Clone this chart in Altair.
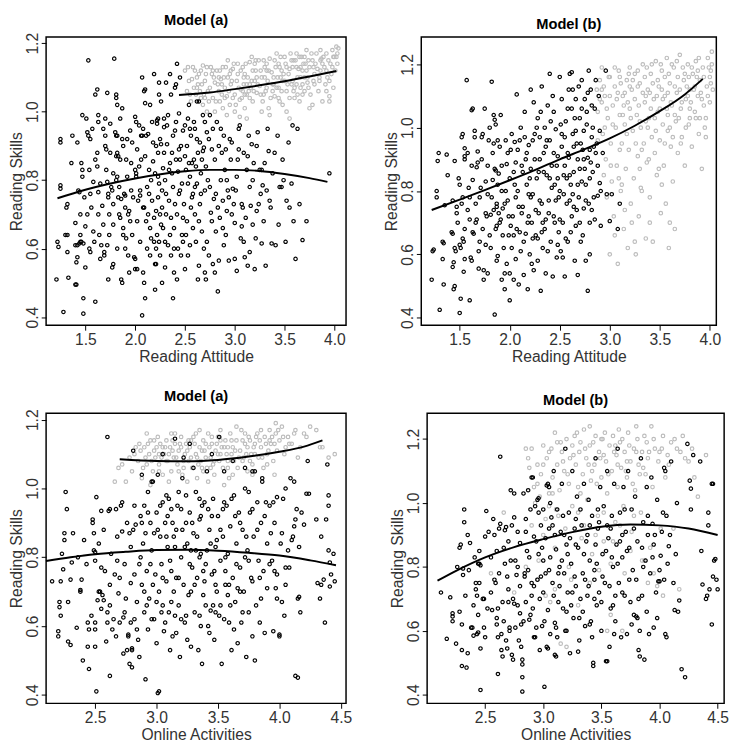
import altair as alt
import pandas as pd

FONT = "Liberation Sans"

# ---------------- Panel 1: Model (a), Reading Attitude ----------------
p1_black_a = [
(1.21,0.51),(1.22,0.62),(1.23,0.605),(1.25,0.92),(1.25,0.91),(1.25,0.785),(1.25,0.775),(1.28,0.415),(1.30,0.64),(1.32,0.64),
(1.32,0.73),(1.31,0.72),(1.32,0.59),(1.33,0.515),(1.36,0.85),(1.37,0.93),(1.40,0.675),(1.40,0.61),(1.42,0.61),(1.44,0.615),
(1.45,0.62),(1.46,0.62),(1.48,0.615),(1.41,0.56),(1.42,0.575),(1.40,0.495),(1.41,0.495),(1.42,0.91),(1.43,0.77),(1.44,0.765),
(1.45,0.70),(1.45,0.64),(1.46,0.85),(1.47,0.81),(1.47,0.83),(1.47,0.99),(1.48,0.41),(1.48,0.455),(1.49,0.75),(1.50,0.545),
(1.50,0.665),(1.51,0.98),(1.52,0.94),(1.53,1.15),(1.53,0.93),(1.55,0.92),(1.54,0.83),(1.54,0.60),(1.55,0.59),(1.56,0.72),
(1.57,0.95),(1.58,0.795),(1.58,0.65),(1.59,0.62),(1.60,0.445),(1.60,1.05),(1.62,1.065),(1.63,0.99),(1.63,0.97),(1.62,0.88),
(1.62,0.84),(1.63,0.765),(1.63,0.70),(1.64,0.64),(1.65,0.57),(1.66,0.61),(1.67,0.725),(1.69,0.59),(1.69,0.58),(1.68,0.67),
(1.70,0.98),(1.70,0.93),(1.70,0.90),(1.71,0.89),(1.71,0.83),(1.72,0.795),(1.73,0.76),(1.73,0.75),(1.74,0.70),(1.74,0.64),
(1.72,1.055),(1.73,0.51),(1.75,0.965),(1.76,0.78),(1.77,0.77),(1.78,0.555),(1.77,0.545),(1.78,0.73),(1.78,0.67),(1.79,1.155),
(1.80,0.94),(1.81,0.93),(1.82,0.93),(1.81,0.87),(1.82,0.88),(1.83,0.87),(1.81,1.04),(1.81,1.05),(1.82,1.02),(1.82,0.81),
(1.81,0.80),(1.82,0.60),(1.83,0.75),(1.84,0.70),(1.85,0.69),(1.85,0.86),(1.86,0.745),(1.86,0.51),(1.87,0.50),(1.87,1.01),
(1.88,0.66),(1.88,0.64),(1.89,0.76),(1.90,0.755),(1.90,0.72),(1.91,0.63),(1.92,0.81),(1.93,0.70),(1.94,0.71),(1.94,0.53),
(1.95,0.945),(1.96,0.85),(1.96,0.77),(1.97,0.64),(1.99,0.575),(2.00,0.57),(2.00,0.985),(2.01,0.97),(2.00,0.83),(2.01,0.82),
(2.01,0.81),(2.00,0.54),(2.02,0.54),(2.02,0.68),(2.04,0.96),(2.04,0.84),(2.05,0.77),(2.05,0.755),(2.06,0.93),(2.07,0.93),
(2.07,1.10),(2.07,0.405),(2.08,0.53),(2.09,0.50),(2.08,0.72),(2.09,0.72),(2.09,1.06),(2.10,1.065),(2.10,1.025),(2.10,0.87),
(2.10,0.455),(2.11,0.68),(2.12,0.60),(2.13,0.935),(2.14,0.83),(2.14,0.76),(2.15,1.02),(2.15,0.58),(2.16,0.63),(2.17,0.74),
(2.18,0.91),(2.18,0.855),(2.19,1.11),(2.19,0.69),(2.20,0.48),(2.20,0.555),(2.21,0.555),(2.21,0.60),(2.21,0.71),(2.22,0.965),
(2.22,0.975),(2.23,0.98),(2.23,0.88),(2.23,0.81),(2.23,0.75),(2.24,1.085),(2.24,1.05),(2.24,0.62),(2.25,0.70),(2.25,0.58),
(2.26,1.03),(2.26,0.905),(2.27,0.72),(2.27,0.50),(2.28,0.835),(2.28,0.66),(2.29,0.98),(2.29,0.955),(2.30,0.545),(2.30,0.80),
(2.31,0.70),(2.31,1.085),(2.32,0.905),(2.33,0.61),(2.34,0.74),(2.35,1.11),(2.35,0.85),(2.35,0.64),(2.36,1.05),(2.37,0.88),
(2.38,0.78),(2.38,0.455),(2.39,0.60),(2.39,0.53),(2.40,0.945),(2.40,1.07),(2.41,1.08),(2.41,0.86),(2.42,1.14),(2.42,0.70),
(2.42,0.51),(2.43,0.825),(2.44,0.89),(2.44,0.995),(2.45,1.10),(2.45,0.77),(2.46,0.58),(2.47,0.64),(2.48,0.945),(2.48,0.62),
(2.49,0.73),(2.50,0.87),(2.50,0.54),(2.52,0.90),(2.52,0.68),(2.53,0.79),(2.53,0.98),(2.54,1.02),(2.55,0.81),(2.55,0.61),
(2.56,0.93),(2.57,0.75),(2.58,0.76),(2.58,0.66),(2.59,0.86),(2.60,0.95),(2.60,0.70),(2.61,0.84),(2.62,1.03),(2.64,1.03),
(2.62,0.79),(2.63,0.51),(2.64,0.55),(2.65,0.91),(2.65,0.73),(2.66,0.82),(2.67,0.65),(2.68,0.99),(2.68,0.885),(2.69,0.895),
(2.70,0.77),(2.70,0.53),(2.71,0.51),(2.72,0.94),(2.73,0.80),(2.74,0.58),(2.75,0.99),(2.76,0.705),(2.77,0.89),(2.78,0.555),
(2.79,0.745),(2.80,0.53),(2.81,0.65),(2.82,0.97),(2.83,0.475),(2.84,0.565),(2.85,0.69),(2.86,0.80),(2.87,0.88),(2.88,0.74),
(2.89,0.93),(2.90,0.83),(2.91,0.64),(2.92,0.71),(2.93,0.77),(2.94,0.565),(2.96,0.86),(2.97,0.70),(2.98,0.775),(3.00,0.57),
(3.00,0.675),(3.02,0.535),(3.03,0.86),(3.04,0.95),(3.05,0.96),(3.07,0.73),(3.08,0.72),(3.07,0.665),(3.10,0.575),(3.12,0.83),
(3.13,0.55),(3.14,0.93),(3.15,0.59),(3.16,0.725),(3.17,0.905),(3.18,0.80),(3.20,0.54),(3.22,0.71),(3.23,0.94),(3.25,0.83),
(3.26,0.76),(3.27,0.615),(3.28,0.785),(3.30,0.85),(3.31,0.55),(3.33,0.95),(3.34,0.885),(3.37,0.615),(3.38,0.82),(3.41,0.61),
(3.43,0.93),(3.45,0.78),(3.47,0.78),(3.49,0.80),(3.52,0.74),(3.54,0.91),(3.55,0.72),(3.58,0.96),(3.59,0.68),(3.61,0.57),
(3.63,0.95),(3.68,0.625),(3.95,0.82),
]
p1_black_b = [
(1.52,0.70),(1.55,0.76),(1.60,0.86),(1.65,0.79),(1.68,0.95),(1.72,0.61),(1.75,0.88),(1.78,0.82),(1.85,0.98),(1.88,0.90),
(1.90,0.60),(1.92,0.92),(1.95,0.68),(1.98,0.75),(2.02,0.89),(2.05,0.62),(2.08,0.95),(2.12,0.78),(2.15,0.66),(2.17,0.97),
(2.20,0.82),(2.22,0.64),(2.25,0.92),(2.27,0.77),(2.30,0.62),(2.32,0.96),(2.34,0.83),(2.36,0.69),(2.38,0.93),(2.40,0.73),
(2.43,0.60),(2.45,0.86),(2.47,0.79),(2.50,0.96),(2.51,0.64),(2.54,0.85),(2.56,0.72),(2.59,0.97),(2.61,0.62),(2.63,0.88),
(2.66,0.76),(2.69,0.60),(2.71,0.84),(2.74,0.92),(2.77,0.68),(2.80,0.86),(2.83,0.72),(2.86,0.95),(2.89,0.61),(2.92,0.80),
(2.95,0.92),(2.99,0.73),(3.02,0.81),(3.06,0.63),(3.09,0.88),(3.11,0.69),(3.15,0.78),(3.19,0.85),(3.21,0.63),(3.24,0.73),
(3.29,0.68),(3.32,0.77),(3.36,0.72),(3.40,0.88),(3.44,0.67),(3.48,0.86),(3.51,0.62),(3.57,0.79),(3.65,0.73),(3.72,0.68),
]
p1_black_c = [
(1.84,0.78),(1.87,0.92),(1.91,0.86),(1.93,0.58),(1.97,0.91),(2.03,0.74),(2.06,0.86),(2.11,0.93),(2.13,0.70),(2.16,0.80),
(2.19,0.62),(2.21,0.90),(2.24,0.79),(2.26,0.67),(2.29,0.88),(2.31,0.76),(2.33,0.99),(2.36,0.58),(2.37,0.82),(2.39,0.66),
(2.41,0.97),(2.44,0.76),(2.46,0.90),(2.48,0.69),(2.51,0.83),(2.53,0.58),(2.55,0.95),(2.57,0.85),(2.60,0.78),(2.62,0.92),
(2.64,0.68),(2.67,0.86),(2.70,0.97),(2.72,0.62),(2.75,0.78),(2.78,0.95),(2.81,0.76),(2.84,0.90),(2.88,0.66),(2.91,0.89),
(2.94,0.75),(2.97,0.91),(3.01,0.77),(3.04,0.89),(3.09,0.62),(3.13,0.87),(3.18,0.67),(3.22,0.90),(3.27,0.83),(3.35,0.74),
]
p1_gray_a = [
(2.58,1.13),(2.60,1.12),(2.62,1.10),(2.63,1.08),(2.65,1.06),(2.66,1.04),(2.68,1.02),(2.70,1.09),(2.72,1.00),(2.72,1.13),
(2.75,1.07),(2.77,1.11),(2.78,1.04),(2.80,1.00),(2.80,1.085),(2.82,1.12),(2.84,1.06),(2.85,1.03),(2.86,1.095),(2.88,1.01),
(2.88,1.13),(2.90,1.07),(2.92,1.045),(2.93,1.10),(2.95,1.02),(2.96,1.08),(2.98,1.125),(3.00,1.05),(3.00,1.00),(3.02,1.09),
(3.03,1.11),(3.05,1.035),(3.06,1.065),(3.08,1.13),(3.09,1.08),(3.10,1.01),(3.12,1.05),(3.13,1.10),(3.15,1.145),(3.16,1.07),
(3.18,1.03),(3.20,1.09),(3.21,1.12),(3.22,1.055),(3.24,1.15),(3.25,1.075),(3.27,1.10),(3.28,1.03),(3.30,1.13),(3.31,1.06),
(3.33,1.09),(3.34,1.01),(3.35,1.155),(3.37,1.115),(3.38,1.08),(3.40,1.045),(3.41,1.13),(3.43,1.10),(3.44,1.07),(3.46,1.16),
(3.47,1.12),(3.48,1.02),(3.50,1.09),(3.51,1.14),(3.52,1.06),(3.54,1.11),(3.56,1.17),(3.57,1.08),(3.58,1.13),(3.60,1.04),
(3.61,1.15),(3.63,1.10),(3.64,1.125),(3.66,1.07),(3.67,1.16),(3.69,1.14),(3.70,1.10),(3.72,1.18),(3.73,1.085),(3.75,1.13),
(3.76,1.05),(3.78,1.15),(3.80,1.11),(3.82,1.17),(3.83,1.125),(3.85,1.09),(3.87,1.155),(3.88,1.03),(3.90,1.13),(3.92,1.17),
(3.93,1.10),(3.95,1.045),(3.96,1.14),(3.98,1.18),(4.00,1.16),(4.01,1.12),(4.02,1.19),(4.03,1.17),(4.04,1.185),(2.57,1.095),
(2.55,1.05),(2.52,1.06),(2.53,1.13),(2.68,1.135),(2.74,1.03),(2.92,0.99),(3.05,0.985),(3.12,0.98),(3.35,0.99),(3.52,1.00),
(3.65,1.03),(3.78,1.02),(3.95,1.03),(2.66,1.12),(2.95,1.11),(3.18,1.12),(3.40,1.15),(3.58,1.09),(3.70,1.06),(3.85,1.10),
(3.99,1.07),(3.47,1.06),(3.30,1.10),(3.12,1.08),(2.85,1.12),(3.55,1.125),(3.62,1.08),(3.68,1.12),(3.74,1.15),(3.88,1.14),
(3.45,1.13),(3.32,1.12),(3.22,1.10),(3.08,1.06),(2.98,1.04),(3.15,1.04),(3.38,1.06),(3.60,1.07),(3.80,1.08),(3.92,1.12),
]
p1_gray_b = [
(2.50,1.12),(2.54,1.09),(2.56,1.03),(2.59,1.07),(2.61,1.05),(2.64,1.11),(2.67,1.08),(2.69,1.05),(2.71,1.11),(2.73,1.06),
(2.76,1.13),(2.79,1.10),(2.81,1.03),(2.83,1.08),(2.87,1.05),(2.89,1.10),(2.91,1.13),(2.94,1.06),(2.97,1.09),(2.99,1.14),
(3.01,1.02),(3.04,1.07),(3.06,1.12),(3.07,1.04),(3.10,1.11),(3.11,1.14),(3.14,1.06),(3.17,1.09),(3.19,1.06),(3.20,1.14),
(3.23,1.08),(3.26,1.12),(3.29,1.05),(3.29,1.15),(3.32,1.07),(3.34,1.12),(3.36,1.04),(3.39,1.10),(3.42,1.07),(3.44,1.14),
(3.45,1.03),(3.49,1.11),(3.50,1.16),(3.53,1.08),(3.55,1.04),(3.57,1.15),(3.59,1.06),(3.62,1.13),(3.63,1.05),(3.65,1.16),
(3.66,1.10),(3.68,1.08),(3.71,1.14),(3.72,1.12),(3.74,1.07),(3.77,1.17),(3.79,1.09),(3.81,1.14),(3.84,1.06),(3.86,1.12),
(3.89,1.16),(3.91,1.08),(3.94,1.15),(3.97,1.11),(3.99,1.16),(4.03,1.14),(3.86,1.18),(3.62,1.17),(3.42,1.17),(3.17,1.16),
(2.93,1.15),(3.55,0.98),(3.75,1.01),(3.27,1.00),(3.10,1.05),(2.87,1.08),(3.48,1.09),(3.68,1.05),(3.95,1.09),
(2.62,1.07),(2.70,1.04),(2.78,1.12),(2.84,1.10),(2.90,1.04),(2.96,1.12),(3.03,1.14),(3.09,1.10),(3.15,1.08),(3.21,1.15),
(3.26,1.05),(3.32,1.14),(3.39,1.08),(3.46,1.10),(3.52,1.13),(3.59,1.15),(3.66,1.13),(3.73,1.10),(3.79,1.13),(3.86,1.15),
(3.92,1.06),(3.98,1.13),(4.02,1.16),(3.70,1.16),(3.44,1.04),
]
p1_curve_low = [(1.22,0.747),(1.5,0.772),(2.0,0.805),(2.5,0.826),(2.75,0.830),(3.0,0.830),(3.25,0.827),(3.5,0.818),(3.75,0.806),(3.93,0.795)]
p1_curve_high = [(2.44,1.049),(2.75,1.056),(3.0,1.066),(3.25,1.077),(3.5,1.089),(3.75,1.103),(4.02,1.119)]

# ---------------- Panel 2: Model (b), Reading Attitude ----------------
p2_black_a = [
(1.22,0.52),(1.23,0.61),(1.24,0.615),(1.27,0.80),(1.27,0.78),(1.29,0.92),(1.28,0.895),(1.30,0.425),(1.33,0.64),(1.34,0.635),
(1.33,0.585),(1.34,0.505),(1.35,0.755),(1.37,0.915),(1.38,0.85),(1.42,0.67),(1.43,0.665),(1.43,0.77),(1.43,0.56),(1.44,0.575),
(1.44,0.49),(1.45,0.50),(1.45,0.895),(1.45,0.62),(1.46,0.61),(1.47,0.75),(1.47,0.73),(1.48,0.70),(1.49,0.84),(1.50,0.82),
(1.50,0.63),(1.51,0.62),(1.50,0.415),(1.51,0.46),(1.52,0.97),(1.53,0.98),(1.52,0.76),(1.53,0.78),(1.53,0.65),(1.54,0.64),
(1.54,0.545),(1.55,0.585),(1.55,0.935),(1.55,0.91),(1.55,0.90),(1.57,1.15),(1.58,0.92),(1.58,0.74),(1.59,0.81),(1.60,0.455),
(1.60,0.78),(1.61,0.59),(1.62,0.58),(1.62,1.055),(1.63,1.06),(1.63,0.67),(1.64,0.665),(1.63,0.835),(1.65,0.97),(1.65,0.99),
(1.66,0.70),(1.67,0.71),(1.67,0.875),(1.68,0.89),(1.68,0.925),(1.69,0.61),(1.69,0.555),(1.70,0.78),(1.71,0.81),(1.72,0.97),
(1.73,0.98),(1.73,0.68),(1.74,0.55),(1.74,0.52),(1.75,1.06),(1.76,0.73),(1.76,0.63),(1.77,0.72),(1.78,0.79),(1.78,0.54),
(1.79,0.96),(1.80,1.00),(1.81,0.725),(1.82,1.145),(1.82,0.78),(1.83,0.92),(1.83,0.835),(1.84,1.04),(1.85,1.025),(1.86,1.01),
(1.85,0.41),(1.85,0.87),(1.86,0.865),(1.86,0.68),(1.87,0.69),(1.87,0.75),(1.87,0.76),(1.88,0.595),(1.87,0.58),(1.88,0.96),
(1.89,0.855),(1.90,0.70),(1.91,0.71),(1.91,1.04),(1.92,0.52),(1.92,0.80),(1.93,0.745),(1.94,0.62),(1.95,0.49),(1.95,0.54),
(1.96,0.96),(1.97,0.885),(1.97,0.57),(1.98,0.77),(1.99,0.66),(2.00,0.455),(2.00,0.54),(2.00,0.84),(2.01,0.93),(2.02,0.62),
(2.03,0.72),(2.04,0.52),(2.04,0.86),(2.05,0.955),(2.06,0.585),(2.07,1.105),(2.07,0.68),(2.08,0.80),(2.09,0.505),(2.10,0.96),
(2.11,0.61),(2.12,0.88),(2.13,0.75),(2.14,0.535),(2.15,1.05),(2.16,0.90),(2.16,0.665),(2.17,0.82),(2.18,0.49),(2.19,0.945),
(2.19,0.72),(2.20,0.60),(2.21,1.12),(2.21,0.87),(2.22,0.70),(2.23,0.79),(2.24,1.08),(2.24,0.55),(2.25,0.98),(2.26,0.66),
(2.27,0.84),(2.28,1.03),(2.28,0.58),(2.29,0.73),(2.30,0.90),(2.31,0.485),(2.32,1.13),(2.32,0.76),(2.33,0.62),(2.34,0.92),
(2.35,1.00),(2.35,0.68),(2.36,0.54),(2.37,0.85),(2.38,1.07),(2.39,0.77),(2.40,1.17),(2.40,0.96),(2.41,0.64),(2.42,0.88),
(2.43,0.53),(2.44,1.05),(2.44,0.72),(2.45,0.82),(2.46,0.995),(2.47,0.59),(2.48,0.91),(2.49,0.67),(2.50,1.16),(2.50,0.80),
(2.51,0.61),(2.52,1.09),(2.52,0.94),(2.53,0.70),(2.54,0.85),(2.55,0.53),(2.56,1.02),(2.57,0.76),(2.58,0.64),(2.59,0.905),
(2.60,1.17),(2.62,1.175),(2.61,0.82),(2.62,0.72),(2.63,1.12),(2.63,0.98),(2.64,0.86),(2.65,0.58),(2.66,1.09),(2.66,0.69),
(2.67,0.95),(2.68,0.535),(2.69,0.78),(2.70,1.03),(2.70,0.87),(2.71,0.64),(2.72,1.15),(2.73,0.93),(2.74,0.745),(2.75,1.09),
(2.76,0.58),(2.76,0.82),(2.77,1.01),(2.78,0.485),(2.78,0.905),(2.79,1.18),(2.80,0.70),(2.80,0.60),(2.81,1.12),(2.82,0.97),
(2.83,0.86),(2.84,0.78),(2.85,1.06),(2.86,0.92),(2.88,0.785),(2.90,0.825),(2.91,0.69),(2.96,1.18),(2.97,0.79),(3.00,0.705),
(3.02,0.79),(3.10,0.76),(3.08,0.68),(2.30,0.97),(2.42,0.81),(2.55,0.88),(2.60,0.77),(2.68,0.90),(2.74,0.99),(2.82,1.07),
(2.36,0.71),(2.48,0.63),(2.64,0.94),(2.72,0.83),(2.20,0.84),(2.12,0.73),(2.06,0.78),(2.28,0.65),(2.58,1.06),(2.80,0.93),
]
p2_black_b = [
(1.55,0.68),(1.60,0.71),(1.62,0.88),(1.66,0.76),(1.70,0.64),(1.72,0.90),(1.76,0.83),(1.80,0.66),(1.84,0.74),(1.88,0.82),
(1.90,0.94),(1.93,0.66),(1.96,0.80),(1.99,0.72),(2.02,0.98),(2.04,0.66),(2.06,0.89),(2.09,0.75),(2.11,1.00),(2.14,0.64),
(2.17,0.92),(2.19,0.79),(2.22,0.57),(2.23,0.96),(2.26,0.74),(2.29,0.86),(2.31,1.05),(2.33,0.70),(2.36,0.94),(2.38,0.61),
(2.40,0.84),(2.43,1.10),(2.45,0.70),(2.47,0.88),(2.49,0.78),(2.51,1.01),(2.53,0.59),(2.55,0.97),(2.57,0.84),(2.59,1.12),
(2.61,0.67),(2.63,0.79),(2.65,1.03),(2.67,0.74),(2.69,1.13),(2.71,0.95),(2.73,0.66),(2.75,0.87),(2.77,1.05),(2.79,0.76),
(2.81,0.89),(2.83,1.00),(2.85,0.71),(2.87,0.95),(2.89,1.10),(2.91,0.80),(2.93,0.92),
]
p2_black_c = [
(1.78,0.88),(1.81,0.62),(1.84,0.95),(1.89,0.73),(1.92,0.88),(1.95,0.76),(1.98,0.92),(2.01,0.69),(2.05,0.82),(2.08,0.93),
(2.10,0.67),(2.13,0.86),(2.15,0.97),(2.18,0.70),(2.21,0.78),(2.23,0.65),(2.25,0.90),(2.27,1.00),(2.30,0.77),(2.32,0.67),
(2.34,0.86),(2.37,0.96),(2.39,0.73),(2.41,1.02),(2.44,0.92),(2.46,0.77),(2.48,0.84),(2.50,0.71),(2.52,0.98),(2.54,0.79),
(2.56,0.65),(2.58,0.92),(2.60,0.85),(2.62,1.06),(2.64,0.75),(2.66,0.99),(2.68,0.82),(2.70,0.70),(2.72,1.06),(2.74,0.90),
(2.76,0.77),(2.78,1.11),(2.80,0.84),(2.82,0.74),(2.84,0.94),(2.86,1.15),(2.88,0.88),(2.90,0.99),
]
p2_gray_a = [
(2.87,1.12),(2.88,1.05),(2.90,1.15),(2.92,1.08),(2.93,0.98),(2.94,0.85),(2.95,1.10),(2.96,0.90),(2.97,0.78),(2.98,1.03),
(3.00,1.16),(3.00,0.60),(3.01,0.95),(3.02,0.83),(3.03,1.07),(3.04,0.72),(3.05,1.13),(3.06,1.00),(3.07,0.88),(3.08,0.57),
(3.09,1.18),(3.10,1.04),(3.11,0.80),(3.12,0.95),(3.13,1.10),(3.14,0.68),(3.15,1.01),(3.16,0.87),(3.17,1.15),(3.18,0.62),
(3.19,0.93),(3.20,1.06),(3.21,0.76),(3.22,1.12),(3.23,0.99),(3.24,0.84),(3.25,1.17),(3.26,0.60),(3.27,1.04),(3.28,0.91),
(3.29,0.72),(3.30,1.14),(3.31,1.00),(3.32,0.80),(3.33,1.20),(3.34,0.95),(3.35,1.08),(3.36,0.65),(3.37,0.89),(3.38,1.12),
(3.39,1.03),(3.40,0.78),(3.41,1.17),(3.42,0.97),(3.43,0.64),(3.44,1.09),(3.45,0.92),(3.46,1.21),(3.47,0.85),(3.48,1.05),
(3.49,1.13),(3.50,0.96),(3.51,0.73),(3.52,1.18),(3.53,1.01),(3.54,0.88),(3.55,1.10),(3.56,0.76),(3.57,1.22),(3.58,0.99),
(3.59,0.62),(3.60,1.14),(3.61,0.94),(3.62,1.07),(3.63,0.83),(3.64,1.19),(3.65,0.68),(3.66,1.02),(3.67,1.11),(3.68,0.92),
(3.70,1.23),(3.71,1.06),(3.72,0.97),(3.74,1.15),(3.75,0.88),(3.76,1.09),(3.78,1.20),(3.79,1.01),(3.80,1.12),(3.82,0.94),
(3.83,1.17),(3.85,1.05),(3.86,1.21),(3.88,1.10),(3.89,0.98),(3.90,1.15),(3.92,0.87),(3.93,1.19),(3.94,1.07),(3.95,1.00),
(3.96,0.97),(3.97,1.13),(3.98,1.22),(4.00,1.08),(4.01,1.18),(4.02,1.24),(4.03,1.12),(4.02,1.20),(3.10,0.93),(3.20,1.19),
(3.35,1.16),(3.45,1.03),(3.55,1.16),(3.65,1.04),(3.75,1.17),(3.85,1.13),(3.30,0.87),(3.15,0.74),(3.05,0.66),(3.25,1.09),
(3.40,1.11),(3.50,1.06),(3.60,1.00),(3.70,1.12),(3.80,1.06),(3.90,1.03),(2.95,1.00),(3.08,1.11),(3.18,1.08),(3.28,1.13),
(3.38,1.00),(3.48,1.15),(3.58,1.11),(3.68,1.16),(3.78,1.10),(3.88,1.18),(3.98,1.10),(3.12,0.82),(3.22,0.70),(3.32,0.93),
]
p2_gray_b = [
(2.88,0.96),(2.90,1.09),(2.92,1.19),(2.94,1.13),(2.97,1.06),(2.99,1.16),(3.01,0.88),(3.03,1.01),(3.05,1.19),(3.07,1.09),
(3.09,0.84),(3.11,1.14),(3.13,1.04),(3.15,1.11),(3.17,0.98),(3.19,1.17),(3.21,1.03),(3.23,1.15),(3.26,0.95),(3.28,1.18),
(3.29,1.07),(3.31,0.81),(3.33,1.11),(3.36,1.02),(3.37,1.19),(3.39,0.90),(3.41,1.06),(3.43,1.14),(3.46,0.99),(3.47,1.10),
(3.49,0.87),(3.51,1.20),(3.53,1.09),(3.55,0.95),(3.57,1.06),(3.59,1.17),(3.61,1.08),(3.63,0.97),(3.65,1.13),(3.67,1.21),
(3.69,1.03),(3.71,0.95),(3.73,1.19),(3.76,1.00),(3.77,1.13),(3.79,1.16),(3.81,1.08),(3.84,1.12),(3.86,1.03),(3.87,1.16),
(3.89,1.22),(3.91,1.11),(3.94,1.16),(3.96,1.03),(3.99,1.19),(4.01,1.14),(3.60,0.70),(3.40,0.70),(3.52,0.82),(3.25,0.64),
(2.92,1.12),(3.00,1.10),(3.10,1.16),(3.20,1.13),(3.30,1.02),(3.42,1.20),(3.52,1.12),(3.62,1.20),(3.72,1.08),(3.82,1.19),
(3.92,1.09),(4.00,1.16),(3.14,1.07),(3.36,1.10),(3.58,1.04),(3.80,1.03),
]
p2_curve = [(1.22,0.740),(1.5,0.773),(1.75,0.803),(2.0,0.834),(2.25,0.866),(2.5,0.900),(2.75,0.932),(3.0,0.966),(3.25,1.006),(3.5,1.052),(3.75,1.105),(3.93,1.154)]

# ---------------- Panel 3: Model (a), Online Activities ----------------
p3_black_a = [
(2.15,0.73),(2.20,0.585),(2.20,0.57),(2.21,0.67),(2.21,0.655),(2.22,0.63),(2.22,0.73),(2.23,0.81),(2.24,0.765),(2.25,0.85),
(2.25,0.87),(2.26,0.99),(2.27,0.94),(2.28,0.67),(2.28,0.555),(2.30,0.545),(2.30,0.735),(2.31,0.785),(2.32,0.87),(2.35,0.595),
(2.36,0.80),(2.38,0.70),(2.38,0.705),(2.39,0.735),(2.40,0.50),(2.41,0.85),(2.43,0.78),(2.44,0.54),(2.44,0.61),(2.45,0.59),
(2.45,0.475),(2.47,0.63),(2.48,0.91),(2.48,0.90),(2.49,0.87),(2.49,0.82),(2.50,0.815),(2.50,0.79),(2.50,0.59),(2.50,0.54),
(2.50,0.61),(2.51,0.41),(2.51,0.975),(2.52,0.675),(2.53,0.70),(2.54,0.70),(2.53,0.84),(2.55,0.935),(2.55,0.77),(2.56,0.69),
(2.57,0.675),(2.57,0.88),(2.58,0.76),(2.59,0.555),(2.60,0.64),(2.60,0.61),(2.60,1.15),(2.61,0.935),(2.62,0.94),(2.62,0.455),
(2.63,0.81),(2.64,0.59),(2.65,0.62),(2.66,0.75),(2.67,0.94),(2.67,0.57),(2.68,0.86),(2.69,0.695),(2.70,0.61),(2.71,0.95),
(2.72,0.96),(2.72,0.875),(2.73,0.52),(2.73,0.625),(2.74,0.78),(2.75,0.68),(2.76,0.53),(2.77,0.57),(2.77,0.575),(2.78,0.49),
(2.78,0.87),(2.79,0.725),(2.79,0.61),(2.80,0.535),(2.80,0.53),(2.80,0.48),(2.81,0.88),(2.81,1.11),(2.82,0.95),(2.82,0.75),
(2.83,0.895),(2.84,0.67),(2.85,0.56),(2.86,0.78),(2.86,0.51),(2.87,0.92),(2.88,0.72),(2.89,0.84),(2.90,0.64),(2.90,0.95),
(2.91,0.87),(2.91,0.445),(2.92,0.76),(2.93,0.99),(2.93,0.59),(2.94,0.68),(2.95,0.90),(2.96,0.82),(2.97,1.02),(2.98,0.62),
(2.99,0.75),(3.00,0.93),(3.00,0.55),(3.01,0.405),(3.02,0.41),(3.01,1.04),(3.02,0.70),(3.03,0.86),(3.04,0.78),(3.05,0.96),
(3.05,0.66),(3.06,0.585),(3.07,0.90),(3.08,0.73),(3.09,0.83),(3.10,0.97),(3.10,0.64),(3.11,0.53),(3.12,0.76),(3.13,0.90),
(3.14,0.70),(3.15,1.145),(3.15,0.83),(3.16,0.58),(3.17,0.95),(3.18,0.66),(3.19,0.51),(3.20,0.80),(3.21,1.03),(3.21,0.88),
(3.22,0.72),(3.23,0.61),(3.24,0.98),(3.25,0.84),(3.26,0.69),(3.27,1.13),(3.27,0.93),(3.28,0.54),(3.29,0.77),(3.30,0.87),
(3.31,0.64),(3.32,0.99),(3.33,0.74),(3.34,0.53),(3.35,0.91),(3.36,0.81),(3.37,0.49),(3.38,0.69),(3.39,0.96),(3.40,0.78),
(3.41,1.05),(3.42,0.60),(3.43,0.88),(3.44,0.645),(3.45,0.75),(3.46,0.97),(3.47,0.56),(3.48,0.83),(3.49,0.70),(3.50,0.92),
(3.51,1.15),(3.51,0.63),(3.52,0.79),(3.53,0.49),(3.54,0.86),(3.55,1.05),(3.56,0.72),(3.57,0.95),(3.58,0.81),(3.59,0.61),
(3.60,0.89),(3.61,0.53),(3.62,0.74),(3.63,0.98),(3.64,0.67),(3.65,0.84),(3.66,0.55),(3.67,0.93),(3.68,0.77),(3.69,0.61),
(3.70,0.88),(3.71,0.70),(3.72,1.00),(3.73,0.51),(3.74,0.82),(3.75,0.64),(3.76,0.93),(3.77,0.74),(3.78,0.57),(3.79,0.86),
(3.80,1.05),(3.80,0.50),(3.81,0.66),(3.82,0.96),(3.83,0.79),(3.84,0.61),(3.85,0.90),(3.86,1.02),(3.87,0.76),(3.88,0.58),
(3.89,0.96),(3.90,0.71),(3.92,0.95),(3.93,0.87),(3.94,0.79),(3.95,0.585),(3.96,0.90),(3.97,0.71),(3.98,0.975),(3.98,0.75),
(4.00,0.575),(4.00,0.57),(4.01,0.84),(4.02,0.67),(4.03,0.97),(4.04,0.63),(4.05,0.77),(4.07,0.82),(4.08,0.77),(4.09,1.03),
(4.10,0.85),(4.11,0.86),(4.12,0.89),(4.12,1.02),(4.13,0.91),(4.13,0.455),(4.15,0.45),(4.14,0.94),(4.15,0.68),(4.16,0.685),
(4.17,0.64),(4.16,0.83),(4.18,0.93),(4.20,0.895),(4.22,0.985),(4.24,0.985),(4.23,1.08),(4.30,0.91),(4.31,0.725),(4.33,0.68),
(4.34,0.86),(4.34,0.72),(4.36,0.735),(4.37,0.61),(4.38,0.91),(4.39,1.07),(4.40,0.98),(4.40,0.95),(4.40,0.82),(4.41,0.785),
(4.41,0.715),(4.42,0.75),(4.44,0.81),(4.45,0.73),(2.88,1.04),(2.96,1.02),(3.05,1.10),(3.22,1.09),(3.30,1.06),(3.45,1.10),
(3.62,1.08),(3.72,1.06),(3.78,1.05),(3.86,1.03),(4.05,1.00),(3.08,0.98),(3.18,0.99),(3.35,0.97),(3.42,0.94),(3.55,0.96),
(3.14,0.86),(3.28,0.82),(3.38,0.76),(3.48,0.72),(3.58,0.69),(3.12,0.67),(3.24,0.63),(3.36,0.60),(3.46,0.66),(3.66,0.71),
]
p3_black_b = [
(2.55,0.65),(2.62,0.72),(2.68,0.79),(2.74,0.64),(2.79,0.83),(2.84,0.59),(2.87,0.80),(2.90,0.70),(2.93,0.93),(2.96,0.62),
(2.98,0.87),(3.00,0.67),(3.03,0.95),(3.05,0.74),(3.07,0.61),(3.09,0.92),(3.11,0.79),(3.13,0.57),(3.16,0.88),(3.18,0.74),
(3.20,0.94),(3.23,0.83),(3.25,0.56),(3.27,0.78),(3.29,0.90),(3.31,0.72),(3.33,0.86),(3.35,0.63),(3.37,0.95),(3.39,0.73),
(3.41,0.82),(3.43,0.58),(3.45,0.92),(3.47,0.76),(3.49,0.85),(3.52,0.66),(3.54,0.94),(3.56,0.80),(3.59,0.72),(3.61,0.97),
(3.63,0.59),(3.65,0.78),(3.68,0.90),(3.70,0.64),(3.73,0.86),(3.75,0.99),(3.78,0.73),(3.82,0.88),(3.85,0.68),(3.88,0.92),
(3.92,0.78),(3.95,0.96),(3.98,0.68),(4.02,0.87),(4.05,0.72),(2.95,0.78),(3.15,0.63),(3.35,0.80),(3.55,0.62),(3.75,0.79),
(2.62,0.66),(2.70,0.74),(2.76,0.90),(2.82,0.62),(2.88,0.90),(2.92,0.66),(2.97,0.72),(3.01,0.88),(3.04,0.64),(3.08,0.86),
(3.12,0.94),(3.16,0.74),(3.20,0.62),(3.24,0.90),(3.28,0.70),(3.32,0.82),(3.36,0.92),(3.40,0.66),(3.44,0.84),(3.48,0.64),
(3.52,0.88),(3.56,0.76),(3.60,0.66),(3.64,0.92),(3.68,0.70),(3.72,0.80),(3.78,0.94),(3.84,0.74),(3.90,0.84),(3.96,0.76),
]
p3_gray_a = [
(2.66,1.02),(2.69,1.06),(2.72,1.07),(2.75,1.02),(2.78,1.09),(2.80,1.05),(2.83,1.12),(2.85,1.08),(2.87,1.11),(2.88,1.03),
(2.90,1.12),(2.92,1.07),(2.94,1.10),(2.95,1.14),(2.97,1.05),(2.99,1.09),(3.00,1.12),(3.02,1.07),(3.03,1.13),(3.05,1.04),
(3.06,1.10),(3.08,1.14),(3.09,1.08),(3.11,1.12),(3.12,1.05),(3.14,1.09),(3.15,1.13),(3.17,1.07),(3.18,1.11),(3.20,1.15),
(3.21,1.04),(3.23,1.10),(3.24,1.13),(3.26,1.08),(3.27,1.12),(3.29,1.06),(3.30,1.15),(3.32,1.10),(3.33,1.03),(3.35,1.12),
(3.36,1.08),(3.38,1.14),(3.39,1.11),(3.41,1.06),(3.42,1.16),(3.44,1.09),(3.45,1.13),(3.47,1.04),(3.48,1.11),(3.50,1.15),
(3.51,1.08),(3.53,1.12),(3.54,1.06),(3.56,1.14),(3.57,1.10),(3.59,1.03),(3.60,1.16),(3.62,1.12),(3.63,1.08),(3.65,1.14),
(3.66,1.06),(3.68,1.11),(3.69,1.17),(3.71,1.09),(3.72,1.13),(3.74,1.05),(3.75,1.15),(3.77,1.10),(3.78,1.07),(3.80,1.13),
(3.82,1.16),(3.83,1.09),(3.85,1.12),(3.87,1.06),(3.88,1.15),(3.90,1.10),(3.92,1.17),(3.93,1.13),(3.95,1.08),(3.97,1.16),
(3.98,1.11),(4.00,1.14),(4.02,1.18),(4.04,1.10),(4.07,1.15),(4.10,1.13),(4.13,1.17),(4.17,1.12),(4.20,1.16),(4.25,1.18),
(4.30,1.17),(4.33,1.12),(4.40,1.09),(4.45,1.10),(4.35,1.12),(4.15,1.09),(4.05,1.12),(3.96,1.04),(3.55,1.01),(3.42,1.02),
(3.25,1.02),(3.10,1.02),(2.95,1.01),(3.15,1.16),(3.35,1.17),(3.65,1.18),(3.85,1.17),(3.97,1.19),(3.45,1.15),(3.61,1.10),
(3.74,1.12),(3.05,1.12),(2.98,1.14),(3.28,1.14),(3.50,1.10),(3.80,1.10),(3.90,1.07),(3.02,1.10),(3.13,1.11),(3.22,1.08),
(3.33,1.09),(3.40,1.13),(3.52,1.14),(3.58,1.12),(3.70,1.08),(3.76,1.14),(3.92,1.14),(3.20,1.12),(3.37,1.06),(3.47,1.08),
]
p3_gray_b = [
(2.82,1.10),(2.86,1.13),(2.89,1.06),(2.91,1.09),(2.93,1.13),(2.96,1.08),(2.98,1.11),(3.01,1.15),(3.04,1.09),(3.07,1.12),
(3.10,1.10),(3.13,1.14),(3.16,1.09),(3.19,1.13),(3.22,1.06),(3.25,1.11),(3.28,1.09),(3.31,1.13),(3.34,1.07),(3.37,1.11),
(3.40,1.09),(3.43,1.12),(3.46,1.07),(3.49,1.13),(3.52,1.10),(3.55,1.12),(3.58,1.08),(3.61,1.14),(3.64,1.11),(3.67,1.09),
(3.70,1.14),(3.73,1.10),(3.76,1.08),(3.79,1.12),(3.81,1.15),(3.84,1.14),(3.86,1.09),(3.89,1.13),(3.91,1.11),(3.94,1.15),
(3.96,1.13),(3.99,1.17),(4.03,1.15),(4.08,1.13),(4.12,1.16),(4.22,1.15),(3.02,1.05),(3.18,1.05),(3.38,1.05),(3.58,1.06),
(3.78,1.04),(3.12,1.16),(3.32,1.16),(3.52,1.17),(3.72,1.16),(2.92,1.16),(3.62,1.04),(3.44,1.06),(3.26,1.14),(3.08,1.08),
]
p3_curve_low = [(2.10,0.789),(2.3,0.800),(2.5,0.809),(2.75,0.816),(3.0,0.821),(3.25,0.822),(3.5,0.819),(3.75,0.813),(4.0,0.805),(4.25,0.791),(4.46,0.777)]
p3_curve_high = [(2.70,1.085),(3.0,1.080),(3.25,1.079),(3.5,1.083),(3.75,1.093),(4.0,1.107),(4.2,1.122),(4.35,1.140)]

# ---------------- Panel 4: Model (b), Online Activities ----------------
p4_black_a = [
(2.12,0.72),(2.17,0.575),(2.20,0.705),(2.22,0.655),(2.22,0.645),(2.22,0.63),(2.25,0.56),(2.26,0.80),(2.28,0.86),(2.29,0.87),
(2.28,0.66),(2.30,0.54),(2.30,0.49),(2.31,0.775),(2.31,0.795),(2.32,0.98),(2.32,0.94),(2.33,0.71),(2.34,0.485),(2.35,0.53),
(2.36,0.79),(2.37,0.875),(2.38,0.61),(2.39,0.61),(2.40,0.585),(2.41,0.83),(2.42,0.75),(2.42,0.73),(2.43,0.71),(2.43,0.59),
(2.44,0.595),(2.44,0.81),(2.45,0.81),(2.46,0.805),(2.44,0.65),(2.45,0.85),(2.46,0.545),(2.46,0.415),(2.48,0.70),(2.49,0.70),
(2.49,0.61),(2.50,0.895),(2.51,0.975),(2.52,0.67),(2.53,0.91),(2.55,0.83),(2.56,0.665),(2.58,0.90),(2.58,0.76),(2.59,0.75),
(2.60,0.64),(2.60,0.62),(2.61,0.58),(2.61,0.465),(2.61,0.67),(2.62,0.92),(2.63,0.935),(2.63,1.145),(2.64,0.59),(2.64,0.54),
(2.65,0.52),(2.66,0.86),(2.66,0.63),(2.67,0.915),(2.68,0.925),(2.67,0.81),(2.69,0.77),(2.69,0.545),(2.70,0.73),(2.70,0.69),
(2.71,0.61),(2.71,0.60),(2.72,1.04),(2.73,0.93),(2.73,0.525),(2.74,0.51),(2.74,0.70),(2.75,0.685),(2.75,1.03),(2.75,0.955),
(2.76,0.82),(2.76,0.61),(2.77,0.775),(2.78,0.68),(2.79,0.57),(2.80,0.875),(2.80,0.655),(2.81,0.62),(2.81,0.55),(2.82,0.495),
(2.82,0.51),(2.82,0.455),(2.82,0.41),(2.83,1.03),(2.84,0.78),(2.84,0.77),(2.85,0.91),(2.85,0.69),(2.86,0.85),(2.87,1.04),
(2.88,0.635),(2.89,0.65),(2.89,0.98),(2.90,0.75),(2.90,0.71),(2.90,1.08),(2.91,1.08),(2.92,0.895),(2.92,0.58),(2.93,0.58),
(2.93,0.99),(2.94,0.61),(2.95,1.01),(2.96,1.015),(2.95,0.76),(2.96,0.84),(2.97,0.54),(2.97,0.70),(2.98,0.93),(2.99,0.615),
(3.00,0.98),(3.00,0.72),(3.01,0.425),(3.02,0.89),(3.03,1.055),(3.04,1.06),(3.05,1.05),(3.03,0.55),(3.04,0.545),(3.04,0.665),
(3.05,0.79),(3.06,0.83),(3.06,0.59),(3.07,0.955),(3.08,0.75),(3.09,1.10),(3.10,0.525),(3.11,0.52),(3.10,0.625),(3.11,0.61),
(3.11,0.855),(3.12,0.98),(3.13,0.69),(3.14,0.80),(3.15,0.91),(3.16,1.06),(3.17,0.67),(3.18,0.78),(3.19,0.60),(3.19,1.17),
(3.20,0.87),(3.21,0.72),(3.22,0.97),(3.23,0.53),(3.24,0.81),(3.25,1.10),(3.26,0.64),(3.27,0.92),(3.28,0.74),(3.29,1.02),
(3.30,0.86),(3.30,0.535),(3.31,0.57),(3.32,0.70),(3.33,0.93),(3.34,0.78),(3.35,1.06),(3.36,0.615),(3.37,0.88),(3.38,0.71),
(3.39,1.01),(3.40,0.82),(3.41,0.63),(3.42,0.96),(3.43,0.50),(3.43,0.49),(3.44,0.76),(3.45,1.14),(3.45,0.87),(3.46,0.68),
(3.47,0.92),(3.48,0.72),(3.49,1.05),(3.50,0.60),(3.51,0.84),(3.52,0.99),(3.53,0.75),(3.54,0.505),(3.55,0.505),(3.55,1.10),
(3.56,0.89),(3.57,0.55),(3.58,0.67),(3.59,0.96),(3.60,0.80),(3.61,1.06),(3.62,0.63),(3.63,0.87),(3.64,1.17),(3.65,0.75),
(3.66,0.97),(3.67,0.58),(3.68,0.83),(3.69,1.05),(3.70,0.71),(3.71,0.91),(3.72,0.59),(3.73,1.10),(3.74,0.86),(3.75,0.69),
(3.76,0.98),(3.77,0.79),(3.78,0.65),(3.79,1.02),(3.80,0.645),(3.81,0.64),(3.81,0.88),(3.82,0.54),(3.83,0.60),(3.83,0.52),
(3.84,1.14),(3.85,0.71),(3.86,0.94),(3.87,0.51),(3.88,0.82),(3.89,1.05),(3.90,0.90),(3.91,0.59),(3.92,0.78),(3.93,1.08),
(3.94,0.935),(3.95,0.61),(3.96,0.90),(3.97,0.72),(3.98,1.01),(3.99,0.755),(4.00,0.755),(4.00,0.79),(4.01,0.835),(4.02,0.91),
(4.03,0.97),(4.04,1.11),(4.05,1.10),(4.05,0.59),(4.06,0.58),(4.06,0.96),(4.07,0.81),(4.08,0.865),(4.09,0.90),(4.10,1.13),
(4.12,0.75),(4.13,0.665),(4.14,0.84),(4.15,1.00),(4.16,0.66),(4.17,0.695),(4.19,0.48),(4.22,0.455),(4.24,1.185),(4.26,1.07),
(4.27,1.045),(4.27,0.98),(4.29,1.15),(4.35,1.13),(4.36,0.85),(4.37,0.745),(4.40,0.70),(4.41,0.71),(4.42,0.97),(4.42,0.93),
(4.43,0.73),(4.45,1.06),(4.46,1.06),(4.45,0.62),(4.46,0.77),(4.47,0.82),(4.48,0.825),(4.49,0.76),(4.50,0.73),(3.08,0.93),
(3.18,0.90),(3.28,0.95),(3.38,0.90),(3.48,0.94),(3.58,0.92),(3.68,0.90),(3.14,0.74),(3.24,0.68),(3.34,0.66),(3.44,0.79),
]
p4_black_b = [
(2.30,0.62),(2.35,0.90),(2.40,0.68),(2.45,0.75),(2.50,0.58),(2.55,0.72),(2.57,0.95),(2.62,0.78),(2.65,0.69),(2.68,0.57),
(2.72,0.82),(2.78,0.91),(2.80,0.74),(2.83,0.63),(2.87,0.79),(2.91,0.67),(2.94,0.88),(2.98,0.77),(3.01,0.63),(3.05,0.92),
(3.09,0.71),(3.12,0.58),(3.16,0.82),(3.20,0.66),(3.23,0.89),(3.27,0.77),(3.31,0.64),(3.35,0.84),(3.39,0.74),(3.42,0.58),
(3.46,0.81),(3.50,0.69),(3.54,0.85),(3.57,0.74),(3.61,0.59),(3.64,0.81),(3.68,0.72),(3.72,0.85),(3.76,0.62),(3.80,0.76),
(3.85,0.86),(3.89,0.66),(3.94,0.83),(3.98,0.64),(4.04,0.76),
(2.85,0.95),(2.88,0.83),(2.92,0.74),(2.96,0.97),(2.99,0.86),(3.02,0.78),(3.06,1.00),(3.10,0.90),(3.13,0.78),(3.17,0.96),
(3.21,0.84),(3.25,0.72),(3.28,0.87),(3.32,0.98),(3.36,0.76),(3.40,0.93),(3.44,0.70),(3.47,0.98),(3.51,0.77),(3.55,0.93),
(3.59,0.83),(3.62,0.71),(3.66,0.88),(3.70,0.98),(3.74,0.76),(3.78,0.92),(3.82,0.70),(3.86,0.80),(3.90,0.96),(3.95,0.87),
(2.60,0.85),(2.70,0.88),(2.78,0.80),(3.00,0.82),(3.20,0.60),(3.40,0.62),(3.60,0.68),
]
p4_gray_a = [
(2.55,0.78),(2.66,0.97),(2.75,0.72),(2.85,1.17),(2.87,1.14),(2.88,1.11),(2.90,0.93),(2.92,1.05),(2.93,1.00),(2.95,1.12),
(2.96,0.82),(2.98,1.09),(3.00,1.18),(3.02,0.95),(3.03,1.14),(3.05,1.03),(3.06,0.69),(3.07,1.17),(3.08,1.08),(3.10,1.22),
(3.11,0.98),(3.12,1.12),(3.14,1.04),(3.15,0.56),(3.16,1.16),(3.18,1.10),(3.19,0.92),(3.20,1.20),(3.22,1.06),(3.23,1.14),
(3.24,0.76),(3.25,0.99),(3.27,1.21),(3.28,1.12),(3.30,1.05),(3.31,1.16),(3.33,0.89),(3.34,1.09),(3.35,1.23),(3.37,1.14),
(3.38,1.01),(3.40,1.18),(3.41,1.07),(3.42,0.84),(3.44,1.12),(3.45,1.21),(3.47,0.96),(3.48,1.16),(3.50,1.08),(3.51,1.20),
(3.52,0.88),(3.54,1.13),(3.55,1.03),(3.57,1.18),(3.58,0.65),(3.59,1.10),(3.60,1.21),(3.62,0.94),(3.63,1.15),(3.64,1.05),
(3.66,1.19),(3.67,1.11),(3.68,0.60),(3.69,0.99),(3.70,1.16),(3.72,1.08),(3.73,1.22),(3.75,1.13),(3.76,0.91),(3.78,1.17),
(3.79,1.04),(3.81,1.20),(3.82,1.12),(3.84,0.97),(3.85,1.16),(3.87,0.82),(3.88,1.09),(3.89,1.19),(3.90,1.14),(3.92,0.86),
(3.93,1.24),(3.94,1.05),(3.95,0.78),(3.96,1.17),(3.98,0.74),(4.00,1.16),(4.01,0.92),(4.03,1.21),(4.05,1.08),(4.07,1.15),
(4.10,1.19),(4.12,0.92),(4.15,1.17),(4.17,0.73),(4.20,1.21),(4.25,1.13),(4.28,1.17),(4.30,1.08),(4.33,1.02),(4.40,1.15),
(3.55,0.60),(3.30,0.68),(3.20,0.55),(3.02,0.71),(3.10,0.73),(2.95,0.76),(2.85,0.80),(3.40,1.24),(3.80,1.24),(3.65,1.23),
(3.50,1.20),(3.25,1.18),(3.15,1.19),(2.97,1.02),(3.05,0.99),(3.13,0.96),(3.35,0.93),(3.45,0.90),(3.60,0.88),(3.75,0.85),
(3.85,0.82),(3.70,0.78),(3.58,0.81),(3.48,0.79),(3.32,1.19),(3.42,1.10),(3.52,1.15),(3.62,1.18),(3.72,1.13),(3.86,1.11),
]
p4_gray_b = [
(2.90,1.17),(2.95,1.06),(3.00,1.12),(3.05,1.16),(3.08,1.03),(3.12,1.19),(3.17,1.13),(3.21,1.09),(3.26,1.15),(3.29,1.22),
(3.32,1.03),(3.36,1.17),(3.39,1.12),(3.43,1.19),(3.46,1.06),(3.49,1.14),(3.53,1.22),(3.56,1.09),(3.61,1.16),(3.64,1.12),
(3.68,1.20),(3.71,1.10),(3.74,1.18),(3.77,1.06),(3.80,1.16),(3.83,1.09),(3.87,1.21),(3.91,1.16),(3.95,1.20),(3.99,1.13),
(4.02,1.17),(4.08,1.12),(4.13,1.20),(4.18,1.16),(4.22,1.14),(3.10,0.86),(3.22,0.80),(3.30,0.97),(3.40,0.75),(3.52,0.97),
(3.66,0.93),(3.78,0.96),(3.90,0.75),(4.03,0.71),(3.00,0.90),
]
p4_curve = [(2.09,0.757),(2.25,0.788),(2.5,0.830),(2.75,0.862),(3.0,0.887),(3.25,0.909),(3.5,0.926),(3.75,0.933),(4.0,0.930),(4.25,0.920),(4.5,0.900)]

Y_TICKS = [0.4, 0.6, 0.8, 1.0, 1.2]
RA_TICKS = [1.5, 2.0, 2.5, 3.0, 3.5, 4.0]
OA_TICKS = [2.5, 3.0, 3.5, 4.0, 4.5]


def panel(title, xlab, black, gray, curves, xdom, ydom, xticks, w, h):
    xs = alt.Scale(domain=xdom, nice=False, zero=False)
    ys = alt.Scale(domain=ydom, nice=False, zero=False)
    xax = alt.Axis(values=xticks, format=".1f", title=xlab, labelFlush=False,
                   labelOverlap=False, labelPadding=2, titlePadding=1)
    yax = alt.Axis(values=Y_TICKS, format=".1f", title="Reading Skills",
                   labelAngle=270, labelAlign="center", labelBaseline="bottom",
                   labelOverlap=False, labelPadding=1, titlePadding=0)
    X = alt.X("x:Q", scale=xs, axis=xax)
    Y = alt.Y("y:Q", scale=ys, axis=yax)
    gdf = pd.DataFrame(gray, columns=["x", "y"])
    bdf = pd.DataFrame(black, columns=["x", "y"])
    rows = []
    for i, c in enumerate(curves):
        for x, y in c:
            rows.append({"x": x, "y": y, "id": i})
    cdf = pd.DataFrame(rows)
    g = alt.Chart(gdf).mark_point(filled=False, size=13, strokeWidth=1.2,
                                  color="#bcbcbc", opacity=1).encode(x=X, y=Y)
    b = alt.Chart(bdf).mark_point(filled=False, size=12, strokeWidth=1.2,
                                  color="#000000", opacity=1).encode(x=X, y=Y)
    ln = alt.Chart(cdf).mark_line(color="#000000", strokeWidth=2,
                                  interpolate="monotone").encode(x=X, y=Y, detail="id:N")
    return alt.layer(g, b, ln).properties(
        width=w, height=h,
        title=alt.TitleParams(title, font=FONT, fontSize=15, fontWeight="bold",
                              color="#000000", offset=5, anchor="middle"))


c1 = panel("Model (a)", "Reading Attitude", p1_black_a + p1_black_b + p1_black_c,
           p1_gray_a + p1_gray_b, [p1_curve_low, p1_curve_high],
           [1.106, 4.117], [0.376, 1.218], RA_TICKS, 307, 295)
c2 = panel("Model (b)", "Reading Attitude", p2_black_a + p2_black_b + p2_black_c,
           p2_gray_a + p2_gray_b, [p2_curve],
           [1.116, 4.065], [0.376, 1.286], RA_TICKS, 302, 295)
c3 = panel("Model (a)", "Online Activities", p3_black_a + p3_black_b,
           p3_gray_a + p3_gray_b, [p3_curve_low, p3_curve_high],
           [2.101, 4.542], [0.375, 1.219], OA_TICKS, 307, 297)
c4 = panel("Model (b)", "Online Activities", p4_black_a + p4_black_b,
           p4_gray_a + p4_gray_b, [p4_curve],
           [2.001, 4.556], [0.373, 1.281], OA_TICKS, 304, 297)

chart = alt.vconcat(
    alt.hconcat(c1, c2, spacing=37),
    alt.hconcat(c3, c4, spacing=37),
    spacing=23,
).properties(
    padding={"left": 0, "top": -5, "right": 0, "bottom": 0}
).configure_view(
    stroke="#000000", strokeWidth=1.5
).configure_axis(
    domain=False, grid=False, ticks=True, tickColor="#000000", tickSize=5, tickWidth=1,
    labelFont=FONT, titleFont=FONT, labelFontSize=16, titleFontSize=16,
    titleFontWeight="normal", labelColor="#333333", titleColor="#333333",
)

chart.save("out.html", embed_options={"renderer": "svg", "actions": False})
